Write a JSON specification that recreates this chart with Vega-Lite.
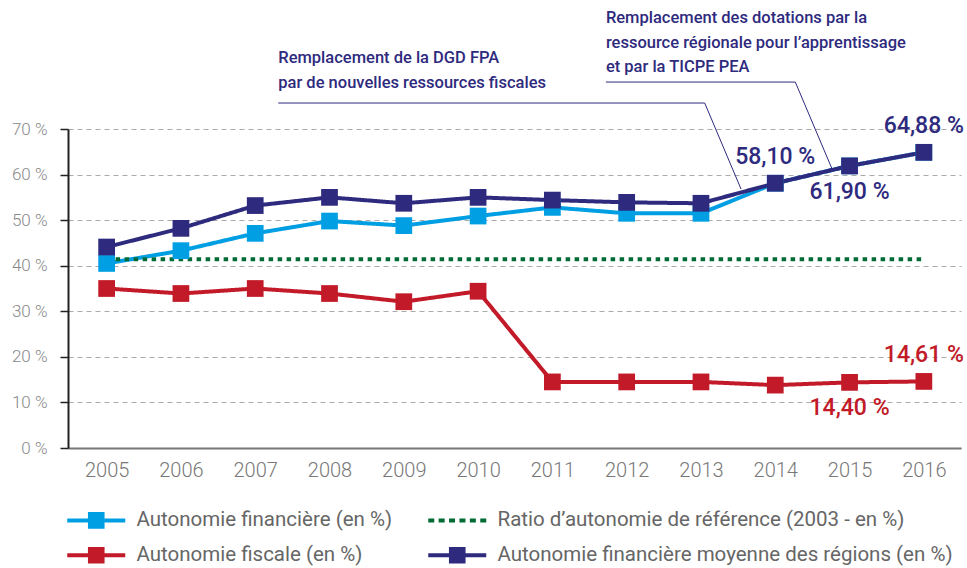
{
  "$schema": "https://vega.github.io/schema/vega-lite/v6.json",
  "width": 893,
  "height": 319,
  "autosize": {"type": "none"},
  "padding": {"left": 68, "top": 129, "right": 6, "bottom": 120},
  "background": "white",
  "config": {"view": {"stroke": null}, "font": "Roboto"},
  "datasets": {
    "series": [
      {"year": 2005, "serie": "Autonomie financière (en %)", "value": 40.5},
      {"year": 2006, "serie": "Autonomie financière (en %)", "value": 43.3},
      {"year": 2007, "serie": "Autonomie financière (en %)", "value": 47.1},
      {"year": 2008, "serie": "Autonomie financière (en %)", "value": 49.8},
      {"year": 2009, "serie": "Autonomie financière (en %)", "value": 48.8},
      {"year": 2010, "serie": "Autonomie financière (en %)", "value": 50.9},
      {"year": 2011, "serie": "Autonomie financière (en %)", "value": 52.8},
      {"year": 2012, "serie": "Autonomie financière (en %)", "value": 51.5},
      {"year": 2013, "serie": "Autonomie financière (en %)", "value": 51.5},
      {"year": 2014, "serie": "Autonomie financière (en %)", "value": 58.1},
      {"year": 2015, "serie": "Autonomie financière (en %)", "value": 61.9},
      {"year": 2016, "serie": "Autonomie financière (en %)", "value": 64.88},
      {"year": 2005, "serie": "Ratio d’autonomie de référence (2003 - en %)", "value": 41.4},
      {"year": 2016, "serie": "Ratio d’autonomie de référence (2003 - en %)", "value": 41.4},
      {"year": 2005, "serie": "Autonomie fiscale (en %)", "value": 35.0},
      {"year": 2006, "serie": "Autonomie fiscale (en %)", "value": 33.9},
      {"year": 2007, "serie": "Autonomie fiscale (en %)", "value": 35.0},
      {"year": 2008, "serie": "Autonomie fiscale (en %)", "value": 33.9},
      {"year": 2009, "serie": "Autonomie fiscale (en %)", "value": 32.1},
      {"year": 2010, "serie": "Autonomie fiscale (en %)", "value": 34.4},
      {"year": 2011, "serie": "Autonomie fiscale (en %)", "value": 14.5},
      {"year": 2012, "serie": "Autonomie fiscale (en %)", "value": 14.5},
      {"year": 2013, "serie": "Autonomie fiscale (en %)", "value": 14.5},
      {"year": 2014, "serie": "Autonomie fiscale (en %)", "value": 13.8},
      {"year": 2015, "serie": "Autonomie fiscale (en %)", "value": 14.4, "label": "14,40 %"},
      {"year": 2016, "serie": "Autonomie fiscale (en %)", "value": 14.61, "label": "14,61 %"},
      {"year": 2005, "serie": "Autonomie financière moyenne des régions (en %)", "value": 44.1},
      {"year": 2006, "serie": "Autonomie financière moyenne des régions (en %)", "value": 48.2},
      {"year": 2007, "serie": "Autonomie financière moyenne des régions (en %)", "value": 53.2},
      {"year": 2008, "serie": "Autonomie financière moyenne des régions (en %)", "value": 55.0},
      {"year": 2009, "serie": "Autonomie financière moyenne des régions (en %)", "value": 53.7},
      {"year": 2010, "serie": "Autonomie financière moyenne des régions (en %)", "value": 55.0},
      {"year": 2011, "serie": "Autonomie financière moyenne des régions (en %)", "value": 54.4},
      {"year": 2012, "serie": "Autonomie financière moyenne des régions (en %)", "value": 53.9},
      {"year": 2013, "serie": "Autonomie financière moyenne des régions (en %)", "value": 53.7},
      {"year": 2014, "serie": "Autonomie financière moyenne des régions (en %)", "value": 58.1, "label": "58,10 %"},
      {"year": 2015, "serie": "Autonomie financière moyenne des régions (en %)", "value": 61.9, "label": "61,90 %"},
      {"year": 2016, "serie": "Autonomie financière moyenne des régions (en %)", "value": 64.88, "label": "64,88 %"}
    ],
    "leaders": [
      {"note": "a", "step": 1, "year": 2007.31, "value": 75.7},
      {"note": "a", "step": 2, "year": 2013.05, "value": 75.7},
      {"note": "a", "step": 3, "year": 2013.54, "value": 56.8},
      {"note": "b", "step": 1, "year": 2011.72, "value": 80.3},
      {"note": "b", "step": 2, "year": 2014.27, "value": 80.3},
      {"note": "b", "step": 3, "year": 2014.76, "value": 61.4}
    ],
    "notes": [
      {"note": "a", "year": 2007.31, "value": 87.3, "text": "Remplacement de la DGD FPA\npar de nouvelles ressources fiscales"},
      {"note": "b", "year": 2011.72, "value": 96.1, "text": "Remplacement des dotations par la\nressource régionale pour l’apprentissage\net par la TICPE PEA"}
    ]
  },
  "encoding": {
    "x": {
      "field": "year", "type": "quantitative",
      "scale": {"domain": [2004.48, 2016.5], "nice": false, "zero": false},
      "axis": {
        "title": null, "values": [2005, 2006, 2007, 2008, 2009, 2010, 2011, 2012, 2013, 2014, 2015, 2016],
        "format": "d", "grid": false, "ticks": false, "domainColor": "#777", "domainWidth": 2,
        "labelFontSize": 20, "labelColor": "#777", "labelFontWeight": 300, "labelPadding": 12
      }
    },
    "y": {
      "field": "value", "type": "quantitative",
      "scale": {"domain": [0, 70], "nice": false},
      "axis": {
        "title": null, "values": [0, 10, 20, 30, 40, 50, 60, 70],
        "labelExpr": "datum.value + ' %'", "grid": true, "gridDash": [5, 4], "gridColor": "#aaa",
        "domainColor": "#222", "domainWidth": 2, "tickColor": "#222", "tickSize": 8, "tickWidth": 1.5,
        "labelFontSize": 17, "labelColor": "#888", "labelFontWeight": 300, "labelPadding": 13
      }
    }
  },
  "layer": [
    {
      "data": {"name": "series"},
      "mark": {"type": "line", "strokeWidth": 4, "strokeCap": "butt"},
      "encoding": {
        "color": {
          "field": "serie", "type": "nominal",
          "scale": {
            "domain": ["Autonomie financière (en %)", "Ratio d’autonomie de référence (2003 - en %)", "Autonomie fiscale (en %)", "Autonomie financière moyenne des régions (en %)"],
            "range": ["#009FE3", "#006B35", "#C21A28", "#2E2A7E"]
          },
          "legend": {
            "title": null, "orient": "none", "legendX": 18, "legendY": 381, "direction": "horizontal", "columns": 2,
            "labelFontSize": 20.5, "labelColor": "#666", "labelFontWeight": 400, "labelLimit": 600,
            "symbolSize": 400, "labelOffset": 30, "columnPadding": 35, "rowPadding": 14,
            "encode": {
              "symbols": {
                "update": {
                  "shape": {"signal": "datum.value === 'Ratio d’autonomie de référence (2003 - en %)' ? 'M-2.9,-0.2h0.6v0.4h-0.6Z M-1.86,-0.2h0.6v0.4h-0.6Z M-0.82,-0.2h0.6v0.4h-0.6Z M0.22,-0.2h0.6v0.4h-0.6Z M1.26,-0.2h0.6v0.4h-0.6Z M2.3,-0.2h0.6v0.4h-0.6Z' : 'M-2.9,-0.2H2.9V0.2H-2.9Z M-0.83,-0.83H0.83V0.83H-0.83Z'"},
                  "fill": {"scale": "color", "field": "value"},
                  "strokeWidth": {"value": 0},
                  "opacity": {"value": 1}
                }
              }
            }
          }
        },
        "strokeDash": {
          "field": "serie", "type": "nominal",
          "scale": {
            "domain": ["Autonomie financière (en %)", "Ratio d’autonomie de référence (2003 - en %)", "Autonomie fiscale (en %)", "Autonomie financière moyenne des régions (en %)"],
            "range": [[1, 0], [4.5, 4.5], [1, 0], [1, 0]]
          },
          "legend": null
        }
      }
    },
    {
      "data": {"name": "series"},
      "transform": [{"filter": "datum.serie !== 'Ratio d’autonomie de référence (2003 - en %)'"}],
      "mark": {"type": "point", "shape": "square", "filled": true, "size": 280, "opacity": 1},
      "encoding": {
        "color": {"field": "serie", "type": "nominal"}
      }
    },
    {
      "data": {"name": "series"},
      "transform": [{"filter": "datum.label && datum.year !== 2015"}],
      "mark": {"type": "text", "dy": -26, "fontSize": 23, "fontWeight": 500, "align": "center", "baseline": "middle"},
      "encoding": {
        "text": {"field": "label"},
        "color": {"condition": {"test": "datum.serie === 'Autonomie fiscale (en %)'", "value": "#C21A28"}, "value": "#2E2A7E"}
      }
    },
    {
      "data": {"name": "series"},
      "transform": [{"filter": "datum.label && datum.year === 2015"}],
      "mark": {"type": "text", "dy": 26, "fontSize": 23, "fontWeight": 500, "align": "center", "baseline": "middle"},
      "encoding": {
        "text": {"field": "label"},
        "color": {"condition": {"test": "datum.serie === 'Autonomie fiscale (en %)'", "value": "#C21A28"}, "value": "#2E2A7E"}
      }
    },
    {
      "data": {"name": "leaders"},
      "mark": {"type": "line", "strokeWidth": 1, "color": "#2E2A7E"},
      "encoding": {
        "detail": {"field": "note"},
        "order": {"field": "step", "type": "quantitative"}
      }
    },
    {
      "data": {"name": "notes"},
      "mark": {"type": "text", "align": "left", "baseline": "top", "lineBreak": "\n", "lineHeight": 24.5, "fontSize": 16.5, "fontWeight": 500, "color": "#2E2A7E"},
      "encoding": {
        "text": {"field": "text"}
      }
    }
  ]
}
